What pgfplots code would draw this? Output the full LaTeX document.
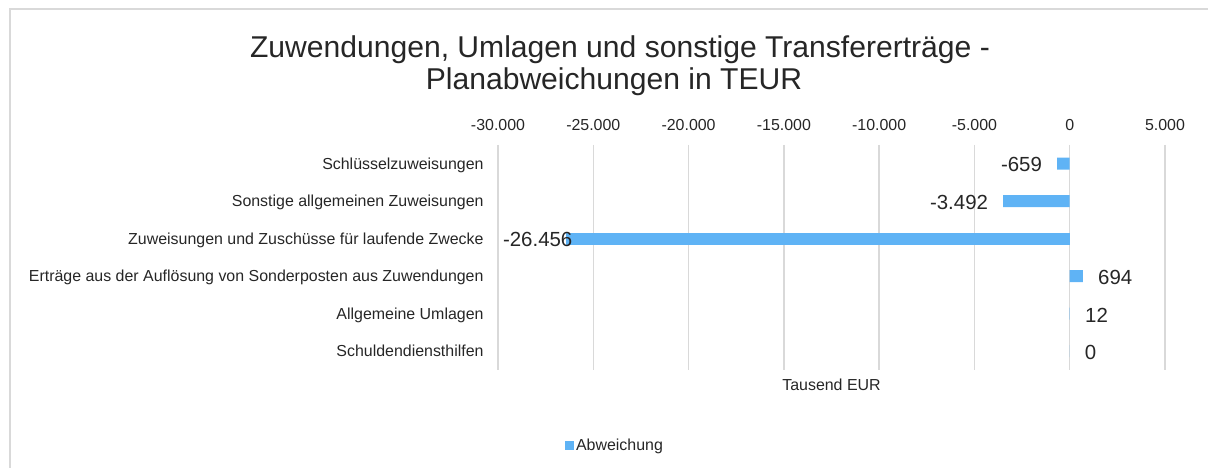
\documentclass[border=0pt]{standalone}
\usepackage{pgfplots}
\pgfplotsset{compat=1.18}
\usepackage{fontspec}
\setmainfont{Liberation Sans}
\definecolor{barblue}{RGB}{95,179,245}
\definecolor{gridgray}{RGB}{217,217,217}
\definecolor{txt}{RGB}{38,38,38}
\begin{document}
\begin{tikzpicture}[x=1bp,y=1bp]
\useasboundingbox (0,0) rectangle (1208,468);
\draw[gridgray, line width=1.6bp] (10,-10) -- (10,459.2) -- (1220,459.2);
\node[anchor=base, text=txt, font=\fontsize{30.2}{34}\selectfont] at (620,410) {Zuwendungen, Umlagen und sonstige Transfererträge -};
\node[anchor=base, text=txt, font=\fontsize{30.2}{34}\selectfont] at (614,378) {Planabweichungen in TEUR};
\begin{axis}[
  at={(498bp,98bp)}, anchor=south west,
  scale only axis, width=667bp, height=225bp,
  xmin=-30000, xmax=5000, ymin=-0.5, ymax=5.5, y dir=reverse,
  xbar, bar width=12bp, bar shift=0pt,
  scaled x ticks=false,
  axis line style={draw=none}, tick style={draw=none},
  xtick={-30000,-25000,-20000,-15000,-10000,-5000,0,5000},
  xticklabels={-30.000,-25.000,-20.000,-15.000,-10.000,-5.000,0,5.000},
  xticklabel pos=right,
  xmajorgrids, major grid style={gridgray, line width=1.5bp},
  ytick={0,1,2,3,4,5},
  yticklabels={Schlüsselzuweisungen,Sonstige allgemeinen Zuweisungen,Zuweisungen und Zuschüsse für laufende Zwecke,Erträge aus der Auflösung von Sonderposten aus Zuwendungen,Allgemeine Umlagen,Schuldendiensthilfen},
  ticklabel style={font=\fontsize{16}{19}\selectfont, text=txt},
  xticklabel style={anchor=base, yshift=14.5bp, inner sep=0pt},
  yticklabel style={anchor=base east, inner sep=0pt, xshift=-10bp, yshift=-5.6bp},
  xlabel={Tausend EUR},
  xlabel style={at={(axis description cs:0.5,0)}, anchor=base, yshift=-21bp, inner sep=0pt, font=\fontsize{16}{19}\selectfont, text=txt},
  point meta=explicit symbolic,
  nodes near coords,
  nodes near coords style={font=\fontsize{20.5}{24}\selectfont, text=txt, inner xsep=15bp, inner ysep=0pt, yshift=-1.2bp},
  clip=false,
  legend style={at={(axis description cs:0.1754,-0.334)}, anchor=center, draw=none, fill=none, font=\fontsize{16}{19}\selectfont, text=txt, inner sep=0pt},
  legend image code/.code={\fill[barblue] (0bp,-4.5bp) rectangle (9bp,4.5bp);},
]
\addplot[fill=barblue, draw=none, nodes near coords style={anchor=east}] coordinates {
  (-659,0) [-659]
  (-3492,1) [-3.492]
};
\addlegendentry{Abweichung}
\addplot[fill=barblue, draw=none, forget plot, nodes near coords style={anchor=east, xshift=22bp}] coordinates {
  (-26456,2) [-26.456]
};
\addplot[fill=barblue, draw=none, forget plot, nodes near coords style={anchor=west}] coordinates {
  (694,3) [694]
  (12,4) [12]
  (0,5) [0]
};
\end{axis}
\end{tikzpicture}
\end{document}
